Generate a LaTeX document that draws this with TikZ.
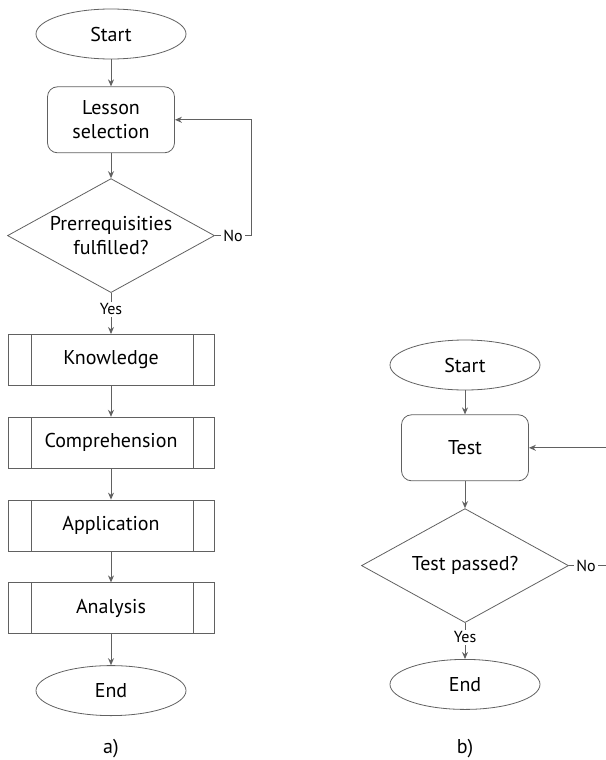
\documentclass[tikz,border=0pt]{standalone}
\usepackage{fontspec}
\setmainfont{PT Sans}
\usepackage{xcolor}
\usepackage{tikz}
\usetikzlibrary{arrows.meta,positioning,shapes.geometric,calc}

\definecolor{edge}{gray}{0.38}

\begin{document}
\begin{tikzpicture}[
  term/.style={draw=edge, ellipse, minimum width=75pt, minimum height=25pt, inner sep=0pt},
  st/.style={draw=edge, rounded corners=5pt, minimum width=63.5pt, minimum height=33pt, align=center},
  proc/.style={draw=edge, minimum width=103pt, minimum height=25.5pt,
    path picture={
      \draw[edge] ([xshift=11.5pt]path picture bounding box.north west) -- ([xshift=11.5pt]path picture bounding box.south west);
      \draw[edge] ([xshift=-10.5pt]path picture bounding box.north east) -- ([xshift=-10.5pt]path picture bounding box.south east);
    }},
  dec/.style={draw=edge, diamond, aspect=1.8, minimum width=103.5pt, minimum height=57pt, inner sep=0pt, align=center},
  arr/.style={-{Stealth[length=3.5pt,width=3pt]}, edge, line width=0.5pt},
  lin/.style={edge, line width=0.5pt},
  lab/.style={font=\footnotesize, text=black, inner sep=1pt}
]
\useasboundingbox (0,0) rectangle (302.5pt,-380pt);

% a) lesson flow
\node[term] (startA) at (55.5pt,-17pt) {Start};
\node[st, below=13.5pt of startA] (lessonA) {Lesson\\selection};
\node[dec, below=12.5pt of lessonA] (decA) {Prerrequisities\\fulfilled?};
\node[proc, below=20.5pt of decA] (knowA) {Knowledge};
\node[proc, below=15.5pt of knowA] (compA) {Comprehension};
\node[proc, below=15.5pt of compA] (applA) {Application};
\node[proc, below=15.5pt of applA] (anaA) {Analysis};
\node[term, below=15.5pt of anaA] (endA) {End};
\node[below=8pt of endA] (capA) {a)};

\node[lab, right=3pt of decA] (noA) {No};
\coordinate[right=3pt of noA] (bendA);

\draw[arr] (startA) -- (lessonA);
\draw[arr] (lessonA) -- (decA);
\draw[lin] (decA) -- (noA);
\draw[arr] (noA) -- (bendA) |- (lessonA);
\draw[arr] (decA) -- node[lab, fill=white, pos=0.4] (yesA) {Yes} (knowA);
\draw[arr] (knowA) -- (compA);
\draw[arr] (compA) -- (applA);
\draw[arr] (applA) -- (anaA);
\draw[arr] (anaA) -- (endA);

% b) test flow
\node[term] (startB) at (232.5pt,-182.5pt) {Start};
\node[st, below=12pt of startB] (testB) {Test};
\node[dec, below=13.5pt of testB] (decB) {Test passed?};
\node[term, below=18pt of decB] (endB) {End};
\node (capB) at (endB |- capA) {b)};

\node[lab, right=2.5pt of decB] (noB) {No};
\coordinate[right=25pt of noB] (bendB);

\draw[arr] (startB) -- (testB);
\draw[arr] (testB) -- (decB);
\draw[lin] (decB) -- (noB);
\draw[arr] (noB) -- (bendB) |- (testB);
\draw[arr] (decB) -- node[lab, fill=white, pos=0.4] (yesB) {Yes} (endB);
\end{tikzpicture}
\end{document}
